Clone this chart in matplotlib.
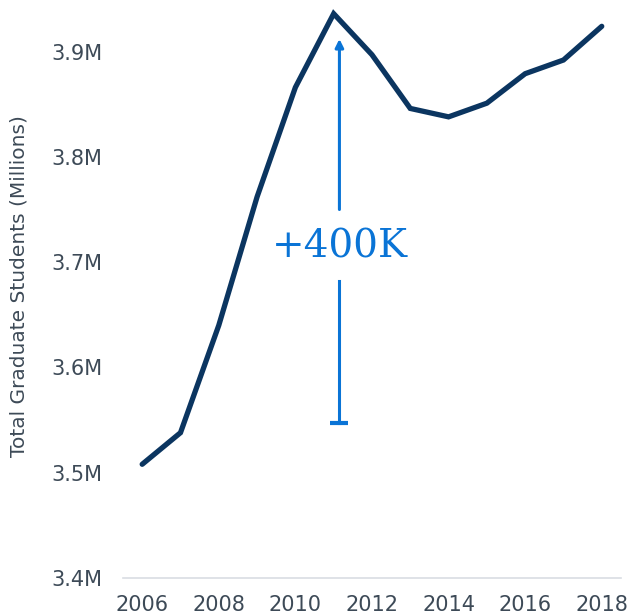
import numpy as np
import matplotlib.pyplot as plt
from matplotlib.ticker import FuncFormatter

# enrolment, millions
years = [2006, 2007, 2008, 2009, 2010, 2011, 2012, 2013, 2014, 2015, 2016, 2017, 2018]
students = [3.508, 3.538, 3.640, 3.762, 3.866, 3.936, 3.897, 3.846, 3.838, 3.851, 3.879, 3.892, 3.924]
yticks = [3.4, 3.5, 3.6, 3.7, 3.8, 3.9]
xticks = [2006, 2008, 2010, 2012, 2014, 2016, 2018]
note = "+400K"

navy = "#0b3560"
blue = "#0a74d6"
grey = "#3d4a57"

fig = plt.figure(figsize=(6.31, 6.15), dpi=100)
ax = fig.add_axes([0.195, 0.0602, 0.789, 0.9398])

ax.plot(years, students, color=navy, linewidth=3.8, solid_capstyle="round",
        solid_joinstyle="miter", zorder=3)

# annotation arrow with a gap for the label
ax_x = 2011.15
ax.plot([ax_x, ax_x], [3.547, 3.682], color=blue, linewidth=2.2)
ax.plot(ax_x, 3.547, marker="_", markersize=13, mew=3, color=blue)
ax.annotate("", xy=(ax_x, 3.912), xytext=(ax_x, 3.750),
            arrowprops=dict(arrowstyle="-|>", color=blue, lw=2.2,
                            mutation_scale=12, shrinkA=0, shrinkB=0))
ax.text(ax_x, 3.714, note, color=blue, fontsize=28, family="DejaVu Serif",
        ha="center", va="center")

ax.set_xlim(2005.5, 2018.5)
ax.set_ylim(3.4, 3.949)
ax.set_xticks(xticks)
ax.set_yticks(yticks)
ax.yaxis.set_major_formatter(FuncFormatter(lambda v, p: f"{v:.1f}M"))

for s in ["top", "right", "left"]:
    ax.spines[s].set_visible(False)
ax.spines["bottom"].set_color("#d9dde3")
ax.spines["bottom"].set_linewidth(1.2)
ax.tick_params(axis="both", length=0, labelsize=15, labelcolor=grey)
ax.tick_params(axis="y", pad=15)
ax.tick_params(axis="x", pad=12)

ax.set_ylabel("Total Graduate Students (Millions)", fontsize=14.5, color=grey)
ax.yaxis.set_label_coords(-0.19, 0.505)

fig.savefig("out.png", dpi=100)
